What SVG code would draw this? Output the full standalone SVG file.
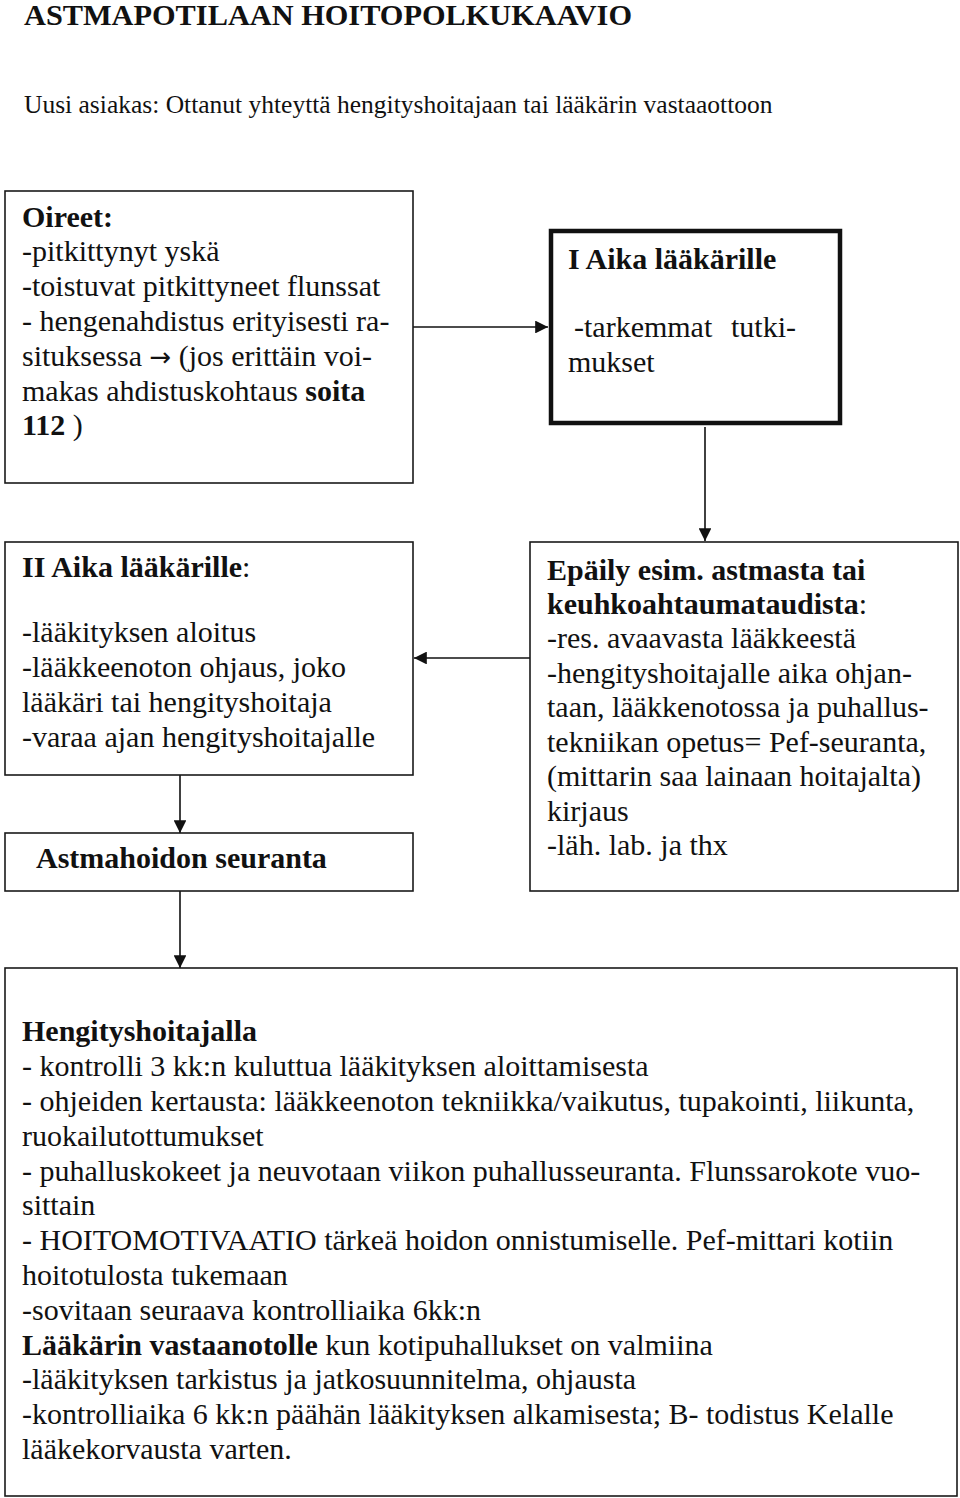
<svg xmlns="http://www.w3.org/2000/svg" width="960" height="1498" viewBox="0 0 960 1498">
<style>
.t{font-family:"Liberation Serif","Times New Roman",serif;font-size:30px;fill:#111}
.b{font-weight:bold}
.sym{font-family:"DejaVu Sans",sans-serif;font-size:26px}
.box{fill:#fff;stroke:#1a1a1a;stroke-width:1.6}
.thick{fill:#fff;stroke:#111;stroke-width:4.5}
.con{fill:none;stroke:#111;stroke-width:1.6}
</style>
<defs>
<marker id="ah" viewBox="0 0 10 10" refX="10" refY="5" markerWidth="8" markerHeight="8" markerUnits="strokeWidth" orient="auto">
<path d="M0,0 L10,5 L0,10 z" fill="#111"/>
</marker>
</defs>
<rect width="960" height="1498" fill="#fff"/>
<g id="title">
<text class="t b" x="24" y="25" font-size="30" textLength="608" lengthAdjust="spacingAndGlyphs">ASTMAPOTILAAN HOITOPOLKUKAAVIO</text>
<text class="t" x="24" y="113" style="font-size:25.5px">Uusi asiakas: Ottanut yhteyttä hengityshoitajaan tai lääkärin vastaaottoon</text>
</g>
<g id="connectors">
<line class="con" x1="413" y1="327" x2="548" y2="327" marker-end="url(#ah)"/>
<line class="con" x1="705" y1="427" x2="705" y2="541" marker-end="url(#ah)"/>
<line class="con" x1="530" y1="658" x2="414" y2="658" marker-end="url(#ah)"/>
<line class="con" x1="180" y1="775" x2="180" y2="833" marker-end="url(#ah)"/>
<line class="con" x1="180" y1="891" x2="180" y2="968" marker-end="url(#ah)"/>
</g>
<g id="oireet">
<rect class="box" x="5" y="191" width="408" height="292"/>
<text class="t" x="22" y="227"><tspan class="b">Oireet:</tspan></text>
<text class="t" x="22" y="261">-pitkittynyt yskä</text>
<text class="t" x="22" y="296">-toistuvat pitkittyneet flunssat</text>
<text class="t" x="22" y="331">- hengenahdistus erityisesti ra-</text>
<text class="t" x="22" y="366">situksessa <tspan class="sym">→</tspan> (jos erittäin voi-</text>
<text class="t" x="22" y="401">makas ahdistuskohtaus <tspan class="b">soita</tspan></text>
<text class="t" x="22" y="435"><tspan class="b">112</tspan> )</text>
</g>
<g id="aika1">
<rect class="thick" x="551" y="231" width="289" height="192"/>
<text class="t b" x="568" y="269">I Aika lääkärille</text>
<text class="t" x="574" y="337">-tarkemmat</text>
<text class="t" x="731" y="337">tutki-</text>
<text class="t" x="568" y="372">mukset</text>
</g>
<g id="aika2">
<rect class="box" x="5" y="542" width="408" height="233"/>
<text class="t" x="22" y="577"><tspan class="b">II Aika lääkärille</tspan>:</text>
<text class="t" x="22" y="642">-lääkityksen aloitus</text>
<text class="t" x="22" y="677">-lääkkeenoton ohjaus, joko</text>
<text class="t" x="22" y="712">lääkäri tai hengityshoitaja</text>
<text class="t" x="22" y="747">-varaa ajan hengityshoitajalle</text>
</g>
<g id="epaily">
<rect class="box" x="530" y="542" width="428" height="349"/>
<text class="t b" x="547" y="580">Epäily esim. astmasta tai</text>
<text class="t" x="547" y="614"><tspan class="b">keuhkoahtaumataudista</tspan>:</text>
<text class="t" x="547" y="648">-res. avaavasta lääkkeestä</text>
<text class="t" x="547" y="683">-hengityshoitajalle aika ohjan-</text>
<text class="t" x="547" y="717">taan, lääkkenotossa ja puhallus-</text>
<text class="t" x="547" y="752">tekniikan opetus= Pef-seuranta,</text>
<text class="t" x="547" y="786">(mittarin saa lainaan hoitajalta)</text>
<text class="t" x="547" y="821">kirjaus</text>
<text class="t" x="547" y="855">-läh. lab. ja thx</text>
</g>
<g id="seuranta">
<rect class="box" x="5" y="833" width="408" height="58"/>
<text class="t b" x="36" y="868">Astmahoidon seuranta</text>
</g>
<g id="hengityshoitajalla">
<rect class="box" x="5" y="968" width="952" height="528"/>
<text class="t b" x="22" y="1041">Hengityshoitajalla</text>
<text class="t" x="22" y="1076">- kontrolli 3 kk:n kuluttua lääkityksen aloittamisesta</text>
<text class="t" x="22" y="1111">- ohjeiden kertausta: lääkkeenoton tekniikka/vaikutus, tupakointi, liikunta,</text>
<text class="t" x="22" y="1146">ruokailutottumukset</text>
<text class="t" x="22" y="1181">- puhalluskokeet ja neuvotaan viikon puhallusseuranta. Flunssarokote vuo-</text>
<text class="t" x="22" y="1215">sittain</text>
<text class="t" x="22" y="1250">- HOITOMOTIVAATIO tärkeä hoidon onnistumiselle. Pef-mittari kotiin</text>
<text class="t" x="22" y="1285">hoitotulosta tukemaan</text>
<text class="t" x="22" y="1320">-sovitaan seuraava kontrolliaika 6kk:n</text>
<text class="t" x="22" y="1355"><tspan class="b">Lääkärin vastaanotolle</tspan> kun kotipuhallukset on valmiina</text>
<text class="t" x="22" y="1389">-lääkityksen tarkistus ja jatkosuunnitelma, ohjausta</text>
<text class="t" x="22" y="1424">-kontrolliaika 6 kk:n päähän lääkityksen alkamisesta; B- todistus Kelalle</text>
<text class="t" x="22" y="1459">lääkekorvausta varten.</text>
</g>
</svg>
